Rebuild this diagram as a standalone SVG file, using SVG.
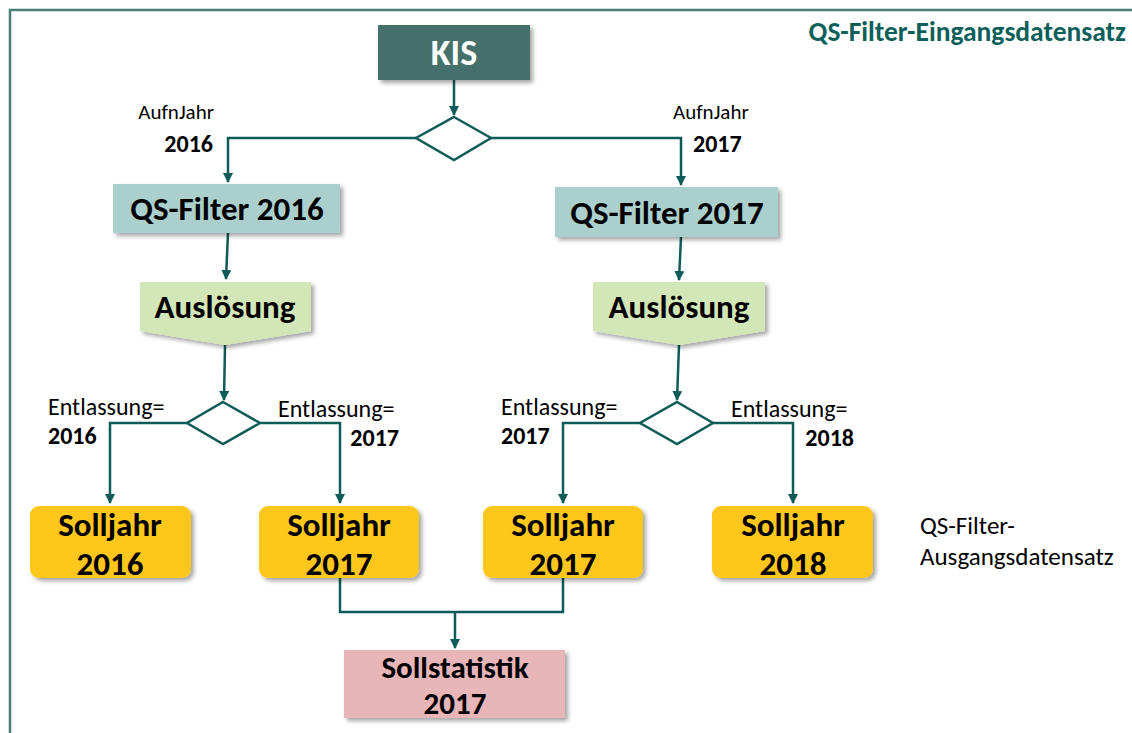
<svg xmlns="http://www.w3.org/2000/svg" width="1132" height="733" viewBox="0 0 1132 733">
<defs>
<filter id="sh" x="-10%" y="-10%" width="130%" height="140%">
<feDropShadow dx="3" dy="3" stdDeviation="2" flood-color="#000" flood-opacity="0.35"/>
</filter>
<marker id="ah" viewBox="0 0 10 10" refX="9" refY="5" markerWidth="4" markerHeight="4" orient="auto" markerUnits="strokeWidth">
<path d="M0,0 L10,5 L0,10 z" fill="#0E5B57"/>
</marker>
</defs>
<style>
text{font-family:Carlito,Lato,"Liberation Sans",sans-serif;}
.big{font-size:33px;font-weight:bold;text-anchor:middle;fill:#000;}
.st{font-size:31px;font-weight:bold;text-anchor:middle;fill:#000;}
.lab{font-size:24px;fill:#000;}
.labo{font-size:25px;fill:#000;}
.labs{font-size:21px;fill:#000;}
.labb{font-size:24px;font-weight:bold;fill:#000;}
.con{fill:none;stroke:#0E5B57;stroke-width:2.5;}
.dia{fill:#fff;stroke:#0E5B57;stroke-width:2.5;}
</style>
<rect x="0" y="0" width="1132" height="733" fill="#fff"/>
<path d="M10,733 L10,10 L1132,10" fill="none" stroke="#4A7D78" stroke-width="2.5"/>
<text x="1126" y="41" style="font-size:27.5px;font-weight:bold;fill:#0E5F5A;text-anchor:end">QS-Filter-Eingangsdatensatz</text>

<g id="connectors">
<path class="con" d="M454,80 L454,115" marker-end="url(#ah)"/>
<path class="con" d="M416,138 L228,138 L228,182" marker-end="url(#ah)"/>
<path class="con" d="M491,138 L681,138 L681,185" marker-end="url(#ah)"/>
<path class="con" d="M228,233 L226,279" marker-end="url(#ah)"/>
<path class="con" d="M681,237 L679,280" marker-end="url(#ah)"/>
<path class="con" d="M225,345 L224,400" marker-end="url(#ah)"/>
<path class="con" d="M679,345 L677,400" marker-end="url(#ah)"/>
<path class="con" d="M187,423 L110,423 L110,503" marker-end="url(#ah)"/>
<path class="con" d="M260,423 L340,423 L340,503" marker-end="url(#ah)"/>
<path class="con" d="M640,423 L563,423 L563,503" marker-end="url(#ah)"/>
<path class="con" d="M713,423 L793,423 L793,503" marker-end="url(#ah)"/>
<path class="con" d="M340,578 L340,612 L563,612 L563,578"/>
<path class="con" d="M455,612 L455,648" marker-end="url(#ah)"/>
</g>

<g id="kis">
<rect x="378" y="25" width="152" height="55" fill="#44706C" filter="url(#sh)"/>
<text x="454" y="65" style="font-size:36px;font-weight:bold;fill:#fff;text-anchor:middle">KIS</text>
</g>

<g id="d1"><polygon class="dia" points="454,117 491,138 454,160 416,138"/></g>
<g id="lab-aufn2016">
<text class="labs" x="214" y="119" text-anchor="end">AufnJahr</text>
<text class="labb" x="213" y="152" text-anchor="end">2016</text>
</g>
<g id="lab-aufn2017">
<text class="labs" x="673" y="119">AufnJahr</text>
<text class="labb" x="693" y="152">2017</text>
</g>

<g id="qs2016">
<rect x="113" y="184" width="227" height="49" fill="#ABCFCD" filter="url(#sh)"/>
<text class="big" x="227" y="220">QS-Filter 2016</text>
</g>
<g id="qs2017">
<rect x="555" y="187" width="223" height="50" fill="#ABCFCD" filter="url(#sh)"/>
<text class="big" x="667" y="224">QS-Filter 2017</text>
</g>

<g id="ausl2016">
<polygon points="140,282 311,282 311,331 225,345 140,331" fill="#D3E6B8" filter="url(#sh)"/>
<text class="big" x="225" y="318">Auslösung</text>
</g>
<g id="ausl2017">
<polygon points="593,282 765,282 765,331 679,345 593,331" fill="#D3E6B8" filter="url(#sh)"/>
<text class="big" x="679" y="318">Auslösung</text>
</g>

<g id="d2"><polygon class="dia" points="223,402 260,423 223,444 187,423"/></g>
<g id="d3"><polygon class="dia" points="677,402 713,423 677,444 640,423"/></g>

<g id="lab-e1">
<text class="lab" x="48" y="415">Entlassung=</text>
<text class="labb" x="48" y="444">2016</text>
</g>
<g id="lab-e2">
<text class="lab" x="278" y="417">Entlassung=</text>
<text class="labb" x="399" y="446" text-anchor="end">2017</text>
</g>
<g id="lab-e3">
<text class="lab" x="501" y="415">Entlassung=</text>
<text class="labb" x="501" y="444">2017</text>
</g>
<g id="lab-e4">
<text class="lab" x="731" y="417">Entlassung=</text>
<text class="labb" x="854" y="446" text-anchor="end">2018</text>
</g>

<g id="s2016">
<rect x="30" y="506" width="161" height="72" rx="9" fill="#FFC61A" filter="url(#sh)"/>
<text class="big" x="110" y="536">Solljahr</text>
<text class="big" x="110" y="575">2016</text>
</g>
<g id="s2017a">
<rect x="259" y="506" width="160" height="72" rx="9" fill="#FFC61A" filter="url(#sh)"/>
<text class="big" x="339" y="536">Solljahr</text>
<text class="big" x="339" y="575">2017</text>
</g>
<g id="s2017b">
<rect x="483" y="506" width="160" height="72" rx="9" fill="#FFC61A" filter="url(#sh)"/>
<text class="big" x="563" y="536">Solljahr</text>
<text class="big" x="563" y="575">2017</text>
</g>
<g id="s2018">
<rect x="712" y="506" width="161" height="72" rx="9" fill="#FFC61A" filter="url(#sh)"/>
<text class="big" x="793" y="536">Solljahr</text>
<text class="big" x="793" y="575">2018</text>
</g>

<g id="lab-out">
<text class="labo" x="920" y="534">QS-Filter-</text>
<text class="labo" x="920" y="565">Ausgangsdatensatz</text>
</g>

<g id="sollstat">
<rect x="344" y="650" width="221" height="68" fill="#E8B5B8" filter="url(#sh)"/>
<text class="st" x="455" y="678">Sollstatistik</text>
<text class="st" x="455" y="714">2017</text>
</g>
</svg>
